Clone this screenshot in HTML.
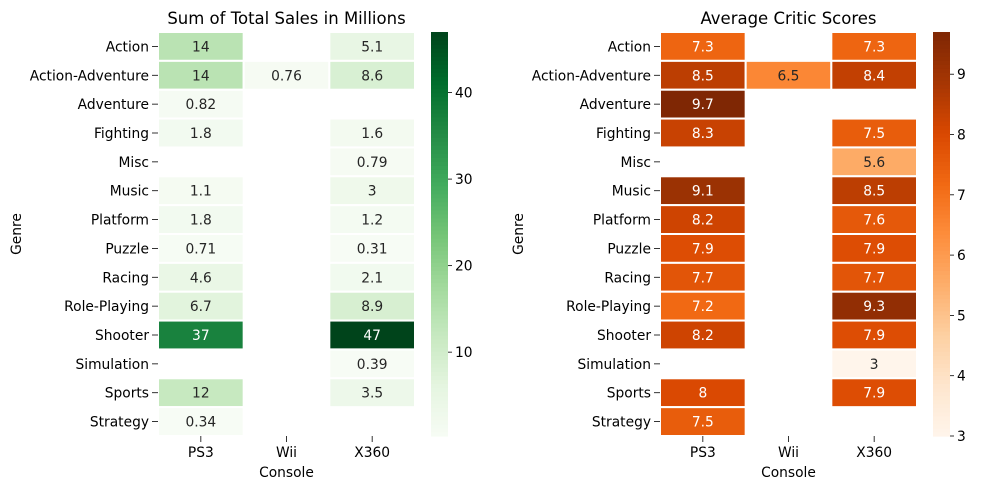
<!DOCTYPE html>
<html><head><meta charset="utf-8"><style>
body{margin:0;background:#fff;font-family:"Liberation Sans","DejaVu Sans",sans-serif}
svg text{font-family:"DejaVu Sans","Liberation Sans",sans-serif}
</style></head><body>
<svg id="c" width="981" height="490"></svg>
<script>
const genres=["Action","Action-Adventure","Adventure","Fighting","Misc","Music","Platform","Puzzle","Racing","Role-Playing","Shooter","Simulation","Sports","Strategy"];
const consoles=["PS3","Wii","X360"];
const salesPS3=[14,14,0.82,1.8,null,1.1,1.8,0.71,4.6,6.7,37,null,12,0.34];
const salesWii=[null,0.76,null,null,null,null,null,null,null,null,null,null,null,null];
const salesX360=[5.1,8.6,null,1.6,0.79,3,1.2,0.31,2.1,8.9,47,0.39,3.5,null];
const scorePS3=[7.3,8.5,9.7,8.3,null,9.1,8.2,7.9,7.7,7.2,8.2,null,8,7.5];
const scoreWii=[null,6.5,null,null,null,null,null,null,null,null,null,null,null,null];
const scoreX360=[7.3,8.4,null,7.5,5.6,8.5,7.6,7.9,7.7,9.3,7.9,3,7.9,null];
const salesTicks=[10,20,30,40];
const scoreTicks=[3,4,5,6,7,8,9];
const greens=["#f7fcf5","#e5f5e0","#c7e9c0","#a1d99b","#74c476","#41ab5d","#238b45","#006d2c","#00441b"];
const oranges=["#fff5eb","#fee6ce","#fdd0a2","#fdae6b","#fd8d3c","#f16913","#d94801","#a63603","#7f2704"];
const NS="http://www.w3.org/2000/svg";
const svg=document.getElementById('c');
const FS=13.8;
function hx(h){return [1,3,5].map(i=>parseInt(h.substr(i,2),16));}
function cmap(stops,t){t=Math.max(0,Math.min(1,t));const p=t*(stops.length-1),i=Math.min(Math.floor(p),stops.length-2),f=p-i;const a=hx(stops[i]),b=hx(stops[i+1]);return a.map((v,k)=>Math.round(v+(b[k]-v)*f));}
function el(tag,at,txt){const e=document.createElementNS(NS,tag);for(const k in at)e.setAttribute(k,at[k]);if(txt!==undefined)e.textContent=txt;svg.appendChild(e);return e;}
function fmt(v){return v>=10?String(Math.round(v)):String(Number(v.toPrecision(2)));}
function draw(o){
  const x0=o.x0,x1=o.x0+257,y0=32,y1=436,cw=(x1-x0)/3,rh=(y1-y0)/14;
  const cols=o.data;
  const t=el('text',{x:(x0+x1)/2,y:24,'text-anchor':'middle','font-size':16.5,fill:'#000'},o.title);
  
  cols.forEach((arr,ci)=>{arr.forEach((v,ri)=>{if(v===null)return;
    const c=cmap(o.cm,(v-o.min)/(o.max-o.min));
    const r=el('rect',{x:x0+ci*cw,y:y0+ri*rh,width:cw,height:rh,fill:`rgb(${c})`,stroke:'#fff','stroke-width':2});
    
    const lum=0.299*c[0]+0.587*c[1]+0.114*c[2];
    const tx=el('text',{x:x0+ci*cw+cw/2,y:y0+ri*rh+rh/2+5,'text-anchor':'middle','font-size':FS,fill:lum<140?'#fff':'#262626'},fmt(v));
    
  });});
  genres.forEach((g,ri)=>{const y=y0+ri*rh+rh/2;
    el('line',{x1:x0-6,x2:x0,y1:y,y2:y,stroke:'#000','stroke-width':0.8});
    const l=el('text',{x:x0-9,y:y+5,'text-anchor':'end','font-size':FS},g);
    });
  consoles.forEach((c,ci)=>{const x=x0+ci*cw+cw/2;
    el('line',{x1:x,x2:x,y1:y1,y2:y1+6,stroke:'#000','stroke-width':0.8});
    const l=el('text',{x:x,y:y1+21,'text-anchor':'middle','font-size':FS},c);
    });
  const xl=el('text',{x:(x0+x1)/2,y:477,'text-anchor':'middle','font-size':FS},'Console');
  
  const yl=el('text',{x:0,y:0,'text-anchor':'middle','font-size':FS,transform:`translate(${o.x0-137},234) rotate(-90)`},'Genre');
  
  const cx=o.x0+273,cwid=17,N=100;
  for(let i=0;i<N;i++){const c=cmap(o.cm,(i+0.5)/N);
    el('rect',{x:cx,y:y1-(i+1)*(y1-y0)/N,width:cwid,height:(y1-y0)/N+0.6,fill:`rgb(${c})`});}
  const sc=v=>y1-(v-o.min)/(o.max-o.min)*(y1-y0);
  o.ticks.forEach(v=>{const y=sc(v);
    el('line',{x1:cx+cwid,x2:cx+cwid+4,y1:y,y2:y,stroke:'#000','stroke-width':0.8});
    const l=el('text',{x:cx+cwid+7,y:y+5,'font-size':FS},String(v));
    });
}
const allS=[...salesPS3,...salesWii,...salesX360].filter(v=>v!==null);
const allC=[...scorePS3,...scoreWii,...scoreX360].filter(v=>v!==null);
draw({id:'sales',x0:158,title:'Sum of Total Sales in Millions',data:[salesPS3,salesWii,salesX360],cm:greens,min:Math.min(...allS),max:Math.max(...allS),ticks:salesTicks});
draw({id:'scores',x0:660,title:'Average Critic Scores',data:[scorePS3,scoreWii,scoreX360],cm:oranges,min:Math.min(...allC),max:Math.max(...allC),ticks:scoreTicks});
</script>
</body></html>
